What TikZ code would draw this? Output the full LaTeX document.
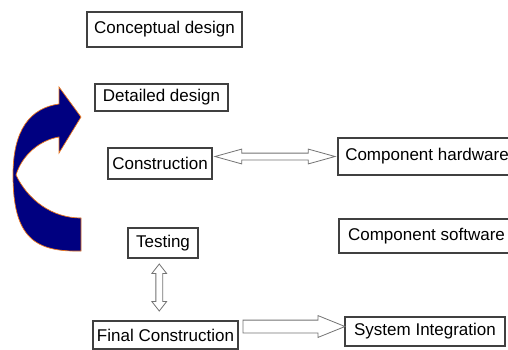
\documentclass[tikz,border=0pt]{standalone}
\usepackage{fontspec}
\newfontfamily\arialfont{Liberation Sans}
\usetikzlibrary{shapes.arrows,calc}

\begin{document}
\begin{tikzpicture}[x=1pt,y=-1pt]
      \clip (0,0) rectangle (508,349);

      \tikzstyle{stage} = [
        rectangle,
        draw=black!75,
        line width=1.2pt,
        inner sep=0pt,
        font=\arialfont\fontsize{17}{20}\selectfont
      ]
      \tikzstyle{blockarrow} = [
        draw=black!55,
        line width=0.8pt,
        fill=white,
        inner sep=3pt
      ]
      \tikzstyle{curvearrow} = [
        fill={rgb,255:red,0;green,0;blue,128},
        draw={rgb,255:red,235;green,120;blue,30},
        line width=0.7pt
      ]

      % design stages
      \node[stage,minimum width=155pt,minimum height=35pt] (concept) at (164.5,29.5) {Conceptual design};
      \node[stage,minimum width=133pt,minimum height=27pt] (detail) at (161.5,97.5) {Detailed design};
      \node[stage,minimum width=104pt,minimum height=31pt] (construct) at (160,163.5) {Construction};
      \node[stage,minimum width=70pt,minimum height=30pt] (testing) at (163,243) {Testing};
      \node[stage,minimum width=145pt,minimum height=28pt] (final) at (165.5,335) {Final Construction};

      % components
      \node[stage,minimum width=178pt,minimum height=37pt] (hardware) at (427,156.5) {Component hardware};
      \node[stage,minimum width=175pt,minimum height=34pt] (software) at (426.5,236) {Component software};
      \node[stage,minimum width=160pt,minimum height=29pt] (system) at (425,331.5) {System Integration};

      % links
      \node[blockarrow,double arrow,double arrow head extend=4pt,double arrow tip angle=31,
            minimum height=120pt] (hwlink) at ($(construct.east |- hardware.west)!0.5!(hardware.west)$) {};
      \node[blockarrow,double arrow,shape border rotate=90,double arrow head extend=4pt,
            double arrow tip angle=76,minimum height=47pt,xshift=-5pt,yshift=2pt]
            (testlink) at ($(testing.south)!0.5!(final.north)$) {};
      \node[blockarrow,single arrow,inner sep=6pt,single arrow head extend=4.5pt,single arrow tip angle=44,
            minimum height=102pt,anchor=tail,xshift=4pt,yshift=8.5pt]
            (syslink) at (final.east) {};

      % loop back
      \filldraw[curvearrow] (81,251) .. controls (35,252) and (13,238) .. (13,175)
        .. controls (13,130) and (30,108) .. (59,104)
        -- (59,87) -- (81,117) -- (59,153) -- (59,137)
        .. controls (40,140) and (22,155) .. (16,175)
        .. controls (28,200) and (52,218) .. (81,218) -- cycle;
\end{tikzpicture}
\end{document}
